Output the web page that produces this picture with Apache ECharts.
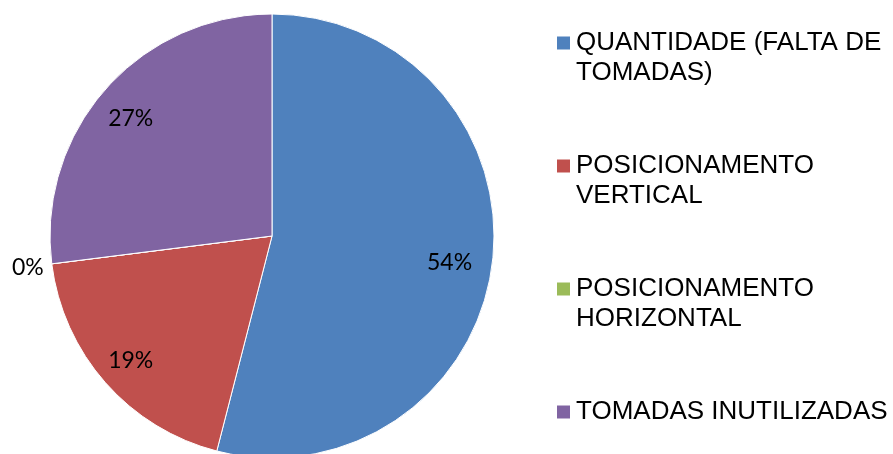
<!DOCTYPE html>
<html><head><meta charset="utf-8">
<script src="https://cdn.jsdelivr.net/npm/echarts@6/dist/echarts.min.js"></script>
<style>html,body{margin:0;padding:0;background:#fff}#c{width:893px;height:454px}</style>
</head><body><div id="c"></div>
<script>
const categories = ['QUANTIDADE (FALTA DE TOMADAS)', 'POSICIONAMENTO VERTICAL', 'POSICIONAMENTO HORIZONTAL', 'TOMADAS INUTILIZADAS'];
const values = [54, 19, 0, 27];
const colors = ['#4F81BD', '#C0504D', '#9BBB59', '#8064A2'];

const LEGEND_FONT = '26px "Liberation Sans", Arial, sans-serif';
const LEGEND_WIDTH = 318;
const ctx = document.createElement('canvas').getContext('2d');
ctx.font = LEGEND_FONT;
function wrap(text) {
  const words = text.split(' ');
  const lines = [];
  let cur = '';
  words.forEach(w => {
    const t = cur ? cur + ' ' + w : w;
    if (cur && ctx.measureText(t).width > LEGEND_WIDTH) { lines.push(cur); cur = w; }
    else cur = t;
  });
  if (cur) lines.push(cur);
  return lines;
}
// keep the first line of each legend entry centred on its colour marker:
// a 3-line block whose middle line is the first text line
function legendText(name) {
  const lines = wrap(name);
  return [' ', lines[0], lines.slice(1).join(' ') || ' '].join('\n');
}

const chart = echarts.init(document.getElementById('c'));
const R = 222;
const mainData = categories.map((n, i) => ({ name: n, value: values[i] }));
const labelData = categories.map((n, i) => {
  const d = { name: n, value: values[i] };
  if (values[i] === 0) {
    d.label = { position: 'outside', distanceToLabelLine: 0, offset: [-8, 4] };
    d.labelLine = { show: false, length: 0, length2: 0 };
  }
  return d;
});
chart.setOption({
  animation: false,
  color: colors,
  legend: {
    orient: 'vertical',
    left: 555,
    top: -2,
    height: 520,
    padding: 0,
    itemWidth: 15,
    itemHeight: 15,
    itemGap: 33,
    icon: 'rect',
    data: categories,
    formatter: legendText,
    textStyle: {
      fontFamily: '"Liberation Sans", Arial, sans-serif',
      fontSize: 26,
      color: '#000',
      lineHeight: 30
    }
  },
  series: [
    {
      type: 'pie',
      center: [272, 236],
      radius: [0, R],
      startAngle: 90,
      clockwise: true,
      silent: true,
      label: { show: false },
      labelLine: { show: false },
      itemStyle: { borderColor: '#fff', borderWidth: 1 },
      data: mainData
    },
    {
      type: 'pie',
      center: [272, 236],
      radius: [Math.round(R * 0.62), R],
      startAngle: 90,
      clockwise: true,
      silent: true,
      percentPrecision: 0,
      avoidLabelOverlap: false,
      itemStyle: { color: 'rgba(0,0,0,0)' },
      label: {
        show: true,
        position: 'inside',
        formatter: '{d}%',
        fontFamily: 'Lato, sans-serif',
        fontSize: 23,
        color: '#000',
        offset: [-4, 4]
      },
      labelLine: { show: false },
      data: labelData
    }
  ]
});
</script></body></html>
